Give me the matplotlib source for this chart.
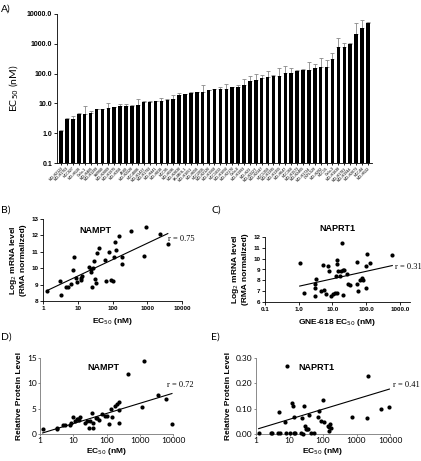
import numpy as np
import matplotlib.pyplot as plt
from matplotlib.ticker import FixedLocator, NullLocator, FixedFormatter

# ---- panel A: EC50 per cell line ----
cell_lines = ["NCI-H2122", "NCI-H1703", "HCC827", "NCI-H520", "Calu-1", "NCI-H460", "NCI-H1299",
              "SW900", "NCI-H2009", "NCI-H1975", "NCI-H358", "A549", "NCI-H2228", "HCC4006",
              "NCI-H1437", "NCI-H1792", "NCI-H441", "NCI-H838", "HCC95", "NCI-H596", "NCI-H2030",
              "SK-MES-1", "NCI-H1651", "NCI-H650", "HCC2935", "NCI-H2126", "NCI-H1568", "HCC1833",
              "NCI-H1650", "NCI-H2170", "Calu-6", "NCI-H1993", "NCI-H23", "NCI-H322T", "NCI-H2347",
              "HCC1359", "NCI-H1395", "NCI-H1355", "NCI-H647", "HCC366", "NCI-H1573", "NCI-H2405",
              "NCI-H1734", "LXFL529", "NCI-H292", "HCC15", "Calu-3", "NCI-H1838", "NCI-H1781",
              "NCI-H1944", "NCI-H2073", "HCC44", "NCI-H522"]
ec50 = [1.23, 2.97, 3.05, 4.4, 4.4, 4.7, 6.3, 6.3, 7.0, 7.5,
        8.2, 8.2, 8.0, 8.6, 11, 11.5, 11.7, 12.2, 13.4, 13.7,
        19.2, 20, 22.5, 24, 24.5, 28.5, 30.5, 30.5, 31, 35,
        36.5, 43, 56, 60, 72, 76, 86, 86, 104, 108,
        118, 134, 137, 160, 165, 170, 315, 760, 800, 1000,
        2100, 3400, 5000]
ec50_sd = [0.1, 0.3, 0.6, 0.3, 4.0, 0.9, 0.2, 0.2, 3.0, 0.2,
           1.2, 1.2, 0.7, 5.5, 1.0, 0.3, 0.3, 3.5, 0.5, 5.0,
           4.0, 0.5, 1.5, 0.5, 17, 0.5, 1.0, 5.0, 14, 1.5,
           6, 22, 24, 35, 20, 45, 3, 65, 75, 45,
           15, 5, 100, 55, 180, 110, 160, 750, 270, 30,
           2700, 2900, 200]

# ---- panel B: NAMPT mRNA vs EC50 ----
b_ec50 = [1.33, 3.0, 3.2, 4.5, 5.3, 6.3, 7.5, 7.8, 8.8, 9.4, 12.2, 13, 12.8, 21, 23.7, 23.7,
          26.5, 28.3, 29.5, 31.6, 33, 35.3, 41, 61, 67, 80, 89, 100, 112, 117, 125, 149,
          186, 186, 815, 337, 915, 2300, 3900]
b_mrna = [8.61, 9.22, 8.35, 8.85, 8.83, 9.06, 9.87, 10.68, 9.4, 9.14, 9.3, 9.55, 9.38, 10.05,
          9.95, 9.75, 8.85, 9.99, 10.42, 9.34, 9.12, 10.93, 11.23, 10.52, 9.2, 11.0, 9.3, 9.2,
          10.68, 11.6, 11.13, 11.98, 10.28, 10.68, 10.72, 12.29, 12.49, 12.09, 11.45]
trend_b = (1.0, 8.52)  # slope per decade, value at 1 nM

# ---- panel C: NAPRT1 mRNA vs EC50 ----
c_ec50 = [1.07, 1.4, 2.95, 3.1, 3.3, 3.1, 4.6, 5.4, 5.8, 6.5, 7.3, 8.0, 9.1, 10.7, 12, 12.9,
          13.4, 14.0, 14.0, 15.0, 16.8, 17.6, 19.2, 20.1, 21, 22.5, 26.5, 29.5, 33, 53, 55,
          59, 68, 73, 78, 102, 102, 109, 134, 596]
c_mrna = [9.6, 6.83, 7.63, 7.32, 8.12, 6.55, 7.0, 9.45, 7.08, 6.7, 9.32, 8.83, 6.6, 6.7, 6.83,
          8.37, 6.83, 9.85, 9.54, 8.83, 8.4, 8.86, 11.45, 6.68, 8.92, 8.92, 8.55, 7.63, 7.54,
          9.72, 7.63, 6.98, 8.0, 8.25, 8.0, 9.35, 7.3, 10.46, 9.63, 10.34]
trend_c = (0.69, 7.45)

# ---- panel D: NAMPT protein vs EC50 ----
d_ec50 = [1.2, 3.2, 3.3, 5.0, 5.6, 7.9, 8.3, 10, 11.2, 12.6, 14.1, 15.8, 14.8, 22.4, 26.3, 30.2,
          31.6, 36.3, 38, 39.8, 47.9, 52.5, 60, 74, 89, 100, 115, 141, 151, 178, 209, 234, 234,
          240, 447, 1320, 1200, 3630, 6300, 9300]
d_prot = [1.0, 1.2, 1.0, 1.7, 1.7, 1.7, 2.1, 3.4, 2.6, 2.9, 3.0, 3.3, 2.8, 2.1, 2.6, 1.1,
          2.5, 4.1, 1.2, 2.2, 3.1, 3.2, 2.8, 3.9, 3.5, 3.5, 2.0, 5.0, 3.4, 5.6, 6.0, 6.3, 2.1,
          4.7, 11.8, 14.4, 5.4, 7.7, 7.0, 2.0]
trend_d = (2.0, 0.05)

# ---- panel E: NAPRT1 protein vs EC50 ----
e_ec50 = [1.2, 2.9, 3.0, 4.6, 5.2, 5.0, 7.4, 7.8, 8.4, 10.5, 11.9, 12.5, 13.4, 15, 13.8, 21.5,
          24, 25, 28, 29, 30.6, 33, 35, 38, 45, 55, 72, 75, 88, 100, 105, 140, 150, 155, 160,
          170, 720, 2040, 2230, 5500, 9600]
e_prot = [0.005, 0.003, 0.003, 0.003, 0.003, 0.085, 0.047, 0.003, 0.267, 0.003, 0.122, 0.11,
          0.066, 0.003, 0.003, 0.005, 0.063, 0.0, 0.11, 0.033, 0.018, 0.018, 0.018, 0.075,
          0.003, 0.003, 0.067, 0.09, 0.05, 0.133, 0.047, 0.03, 0.028, 0.01, 0.038, 0.025,
          0.066, 0.065, 0.23, 0.1, 0.105]
trend_e = (0.04, 0.018)

W, H = 421, 461
fig = plt.figure(figsize=(W / 100, H / 100), dpi=100)
arial = ['Liberation Sans', 'DejaVu Sans']
calib = ['Lato', 'DejaVu Sans']
serif = ['Liberation Serif', 'DejaVu Serif']


def box(l, t, r, b):
    return [l / W, 1 - b / H, (r - l) / W, (b - t) / H]


def panel_label(x, y, s):
    fig.text(x / W, 1 - y / H, s, fontsize=7.5, family=calib, va='center', ha='left')


def trend_line(ax, x, trend):
    k, c = trend
    xs = np.array([min(x), max(x)])
    ax.plot(xs, k * np.log10(xs) + c, color='black', lw=0.8, zorder=1)


# ---- A ----
axA = fig.add_axes(box(57, 14, 372, 163))
pos = np.arange(len(ec50))
axA.bar(pos, ec50, width=0.6, color='black', zorder=2)
axA.errorbar(pos, ec50, yerr=[np.zeros(len(ec50)), ec50_sd], fmt='none',
             ecolor='#888888', elinewidth=0.6, capsize=1.2, capthick=0.6, zorder=1)
axA.set_yscale('log')
axA.set_ylim(0.1, 10000)
axA.set_xlim(-0.7, len(ec50) - 0.3)
axA.yaxis.set_major_locator(FixedLocator([0.1, 1, 10, 100, 1000, 10000]))
axA.yaxis.set_major_formatter(FixedFormatter(['0.1', '1.0', '10.0', '100.0', '1000.0', '10000.0']))
axA.yaxis.set_minor_locator(NullLocator())
for lab in axA.get_yticklabels():
    lab.set_fontweight('bold')
    lab.set_family(arial)
axA.tick_params(axis='y', labelsize=5, length=2, width=0.6, pad=1.5)
axA.set_xticks(pos)
axA.set_xticklabels(cell_lines, rotation=45, ha='right', rotation_mode='anchor',
                    fontsize=2.6, family=arial, fontweight='bold', color='#444444')
axA.tick_params(axis='x', length=1.5, width=0.6, pad=1)
for s in ['top', 'right']:
    axA.spines[s].set_visible(False)
axA.spines['left'].set_linewidth(0.6)
axA.spines['bottom'].set_linewidth(0.6)
axA.set_ylabel('EC$_{50}$ (nM)', fontsize=7.5, family=calib, labelpad=4)
panel_label(1, 9, 'A)')

# ---- B ----
axB = fig.add_axes(box(43, 219, 182, 301))
axB.scatter(b_ec50, b_mrna, s=9, color='black', zorder=3, linewidths=0)
trend_line(axB, b_ec50, trend_b)
axB.set_xscale('log')
axB.set_xlim(1, 10000)
axB.set_ylim(8, 13)
axB.xaxis.set_major_locator(FixedLocator([1, 10, 100, 1000, 10000]))
axB.xaxis.set_major_formatter(FixedFormatter(['1', '10', '100', '1000', '10000']))
axB.xaxis.set_minor_locator(NullLocator())
axB.set_yticks(range(8, 14))
axB.text(0.38, 0.86, 'NAMPT', transform=axB.transAxes, fontsize=6.5, fontweight='bold',
         family=arial, ha='center', va='center')
axB.text(0.9, 0.76, 'r = 0.75', transform=axB.transAxes, fontsize=6, family=serif,
         ha='left', va='center')
axB.set_xlabel('EC$_{50}$ (nM)', fontsize=6, fontweight='bold', family=arial, labelpad=4)
axB.set_ylabel('Log$_2$ mRNA level\n(RMA normalized)', fontsize=6, fontweight='bold',
               family=arial, labelpad=3, linespacing=1.1)
panel_label(1, 210, 'B)')

# ---- C ----
axC = fig.add_axes(box(265, 237, 410, 302))
axC.scatter(c_ec50, c_mrna, s=9, color='black', zorder=3, linewidths=0)
trend_line(axC, c_ec50, trend_c)
axC.set_xscale('log')
axC.set_xlim(0.1, 2000)
axC.set_ylim(6, 12)
axC.xaxis.set_major_locator(FixedLocator([0.1, 1, 10, 100, 1000]))
axC.xaxis.set_major_formatter(FixedFormatter(['0.1', '1.0', '10.0', '100.0', '1000.0']))
axC.xaxis.set_minor_locator(NullLocator())
axC.set_yticks(range(6, 13))
axC.set_title('NAPRT1', fontsize=6.5, fontweight='bold', family=arial, pad=4)
axC.text(0.9, 0.54, 'r = 0.31', transform=axC.transAxes, fontsize=6, family=serif,
         ha='left', va='center')
axC.set_xlabel('GNE-618 EC$_{50}$ (nM)', fontsize=6, fontweight='bold', family=arial, labelpad=4)
axC.set_ylabel('Log$_2$ mRNA level\n(RMA normalized)', fontsize=6, fontweight='bold',
               family=arial, labelpad=3, linespacing=1.1)
panel_label(211, 210, 'C)')

for ax in (axB, axC):
    for lab in ax.get_xticklabels() + ax.get_yticklabels():
        lab.set_fontweight('bold')
        lab.set_family(arial)
    ax.tick_params(labelsize=4.5, length=2, width=0.6, pad=1.5)
    for s in ['top', 'right']:
        ax.spines[s].set_visible(False)
    ax.spines['left'].set_linewidth(0.6)
    ax.spines['bottom'].set_linewidth(0.6)

# ---- D ----
axD = fig.add_axes(box(40, 358, 173, 434))
axD.scatter(d_ec50, d_prot, s=9, color='black', zorder=3, linewidths=0, clip_on=False)
trend_line(axD, d_ec50, trend_d)
axD.set_ylim(0, 15)
axD.set_yticks([0, 5, 10, 15])
axD.text(0.48, 0.87, 'NAMPT', transform=axD.transAxes, fontsize=6.5, fontweight='bold',
         family=arial, ha='center', va='center')
axD.text(0.955, 0.65, 'r = 0.72', transform=axD.transAxes, fontsize=6, family=serif,
         ha='left', va='center')
axD.set_ylabel('Relative Protein Level', fontsize=6, fontweight='bold', family=arial, labelpad=3)
panel_label(1, 337, 'D)')

# ---- E ----
axE = fig.add_axes(box(256, 358, 390, 434))
axE.scatter(e_ec50, e_prot, s=9, color='black', zorder=3, linewidths=0, clip_on=False)
trend_line(axE, e_ec50, trend_e)
axE.set_ylim(0, 0.3)
axE.set_yticks([0, 0.1, 0.2, 0.3])
axE.set_yticklabels(['0.00', '0.10', '0.20', '0.30'])
axE.text(0.45, 0.87, 'NAPRT1', transform=axE.transAxes, fontsize=6.5, fontweight='bold',
         family=arial, ha='center', va='center')
axE.text(1.02, 0.64, 'r = 0.41', transform=axE.transAxes, fontsize=6, family=serif,
         ha='left', va='center')
axE.set_ylabel('Relative Protein Level', fontsize=6, fontweight='bold', family=arial, labelpad=3)
panel_label(211, 337, 'E)')

for ax in (axD, axE):
    ax.set_xscale('log')
    ax.set_xlim(1, 10000)
    ax.xaxis.set_major_locator(FixedLocator([1, 10, 100, 1000, 10000]))
    ax.xaxis.set_major_formatter(FixedFormatter(['1', '10', '100', '1000', '10000']))
    ax.xaxis.set_minor_locator(NullLocator())
    ax.set_xlabel('EC$_{50}$ (nM)', fontsize=6, fontweight='bold', family=arial, labelpad=1)
    for lab in ax.get_xticklabels() + ax.get_yticklabels():
        lab.set_family(calib)
    ax.tick_params(labelsize=6, length=1.5, width=0.6, pad=1, color='#777777')
    for s in ['top', 'right']:
        ax.spines[s].set_visible(False)
    ax.spines['left'].set_linewidth(0.6)
    ax.spines['bottom'].set_linewidth(0.6)
    ax.spines['left'].set_color('#777777')
    ax.spines['bottom'].set_color('#777777')

fig.savefig('out.png', dpi=100)
